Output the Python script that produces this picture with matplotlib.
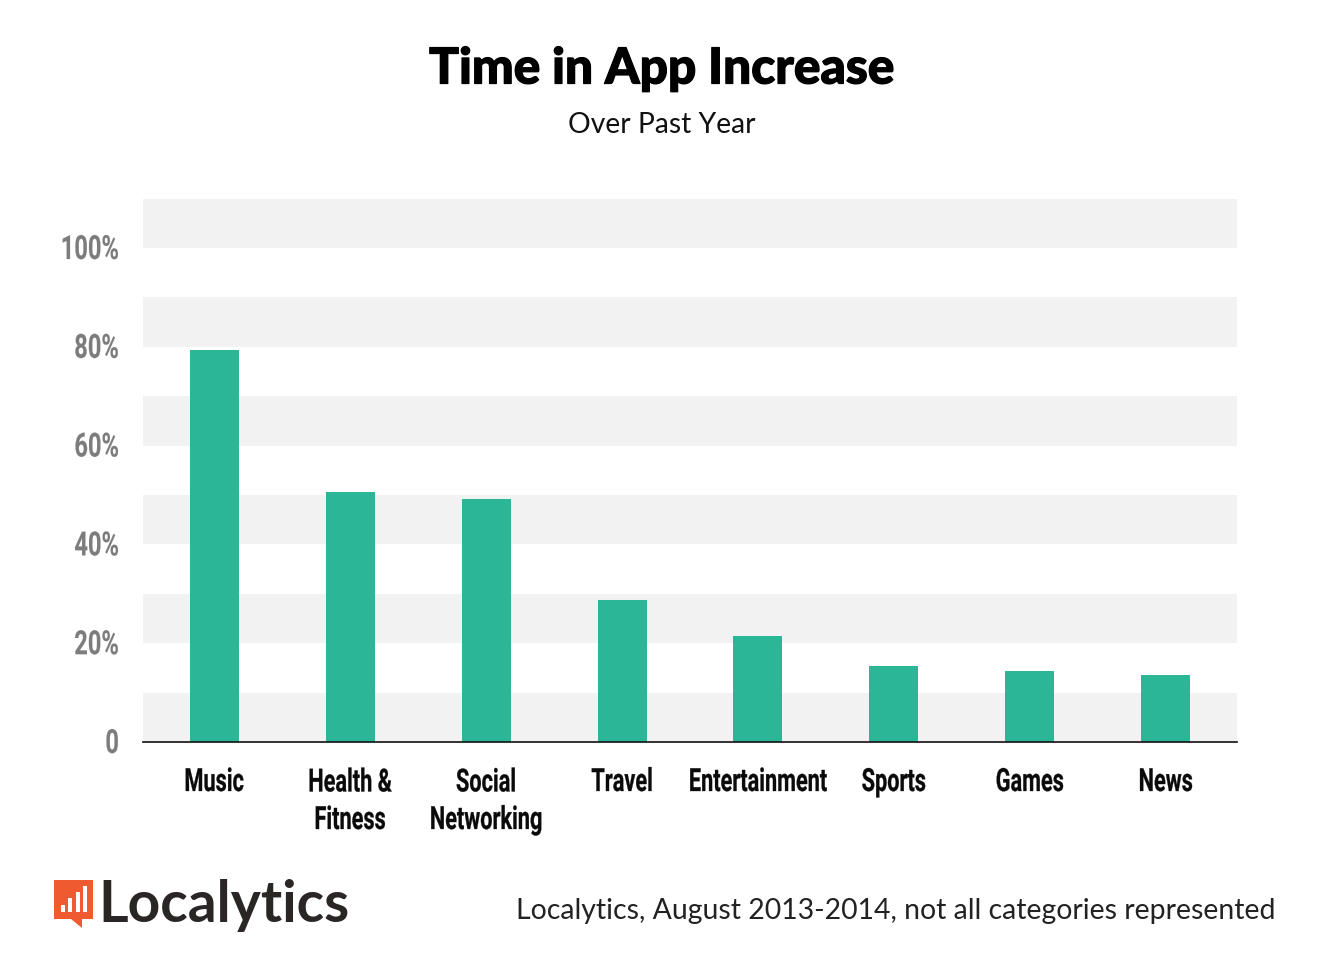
import matplotlib
matplotlib.use("Agg")
import matplotlib.pyplot as plt
import matplotlib.patheffects as pe
from matplotlib.patches import Rectangle, Polygon
from matplotlib.transforms import Affine2D

categories = ["Music", "Health &\nFitness", "Social\nNetworking", "Travel", "Entertainment", "Sports", "Games", "News"]
values = [79.3, 50.7, 49.2, 28.8, 21.5, 15.4, 14.3, 13.6]
yticks = [0, 20, 40, 60, 80, 100]
yticklabels = ["0", "20%", "40%", "60%", "80%", "100%"]
band_starts = [0, 20, 40, 60, 80, 100]


class Tall(pe.AbstractPathEffect):
    """Stretch glyphs up from the baseline, which gives a condensed look at a
    smaller font size, and thicken them a little."""
    def __init__(self, sy, stroke, colour):
        super().__init__()
        self.sy, self.stroke = sy, pe.Stroke(linewidth=stroke, foreground=colour)

    def draw_path(self, renderer, gc, tpath, affine, rgbFace=None):
        self.stroke.draw_path(renderer, gc, tpath, Affine2D().scale(1, self.sy) + affine, rgbFace)


W, H = 1344, 974
fig = plt.figure(figsize=(W/100, H/100), dpi=100, facecolor="white")
x0, x1, ytop, ybot = 143, 1237, 199, 742
ax = fig.add_axes([x0/W, 1-ybot/H, (x1-x0)/W, (ybot-ytop)/H])
ppu = (742-248)/100
ax.set_ylim(0, (ybot-ytop)/ppu)
ax.set_xlim(-0.5-0.024, 7.5+0.024)
for s in band_starts:
    ax.axhspan(s, s+10, color="#f2f2f2", lw=0, zorder=0)
ax.bar(range(len(values)), values, width=0.36, color="#2cb698", zorder=2)
for s in ["top", "left", "right"]:
    ax.spines[s].set_visible(False)
ax.spines["bottom"].set_color("#111111")
ax.spines["bottom"].set_linewidth(1.2)
ax.spines["bottom"].set_zorder(3)
ax.set_yticks(yticks)
ax.set_yticklabels([])
ax.tick_params(axis="y", length=0)
tick_sx = 0.71
for v, lab in zip(yticks, yticklabels):
    t = ax.annotate(lab, xy=(0, v), xytext=(-24, -11), xycoords=("axes fraction", "data"), textcoords="offset pixels",
                    ha="right", va="baseline", fontsize=24*tick_sx, family="Roboto", fontweight="bold", color="#7c7c7c")
    t.set_path_effects([Tall(1/tick_sx, 0.1, "#7c7c7c")])
ax.set_xticks(range(len(values)))
ax.set_xticklabels([])
ax.tick_params(axis="x", length=0)
cat_sx = 0.68
for i, c in enumerate(categories):
    last_line_drop = 38 * c.count("\n")
    t = ax.annotate(c, xy=(i, 0), xytext=(0, -49 - last_line_drop), xycoords=("data", "data"), textcoords="offset pixels",
                    ha="center", va="baseline", fontsize=23*cat_sx, family="Roboto", fontweight="bold",
                    color="#0a0a0a", linespacing=1.3/cat_sx)
    t.set_path_effects([Tall(1/cat_sx, 0.2, "#0a0a0a")])

title = fig.text(662/W, 1-69/H, "Time in App Increase", ha="center", va="center", fontsize=35.7,
                 fontweight="black", family="Lato", color="black")
title.set_path_effects([pe.withStroke(linewidth=0.9, foreground="black")])
fig.text(662/W, 1-125/H, "Over Past Year", ha="center", va="center", fontsize=20.3,
         family="Lato", color="#111111")
fig.text(1276/W, 1-911/H, "Localytics, August 2013-2014, not all categories represented",
         ha="right", va="center", fontsize=20.4, family="Lato", color="#222222")
fig.text(98/W, 1-905/H, "Localytics", ha="left", va="center", fontsize=41, fontweight="bold",
         family="Lato", color="#2a2626")

logo = fig.add_axes([0, 0, 1, 1], facecolor="none")
logo.set_xlim(0, W); logo.set_ylim(H, 0); logo.axis("off")
logo.add_patch(Polygon([(54, 880), (93, 880), (93, 919), (82, 919), (82, 928), (71, 919), (54, 919)], color="#f05a30", lw=0))
for bx, bt in zip([61, 68, 76, 83], [905, 898, 892, 886]):
    logo.add_patch(Rectangle((bx, bt), 4, 912-bt, color="white", lw=0))

fig.savefig("out.png", dpi=100)
